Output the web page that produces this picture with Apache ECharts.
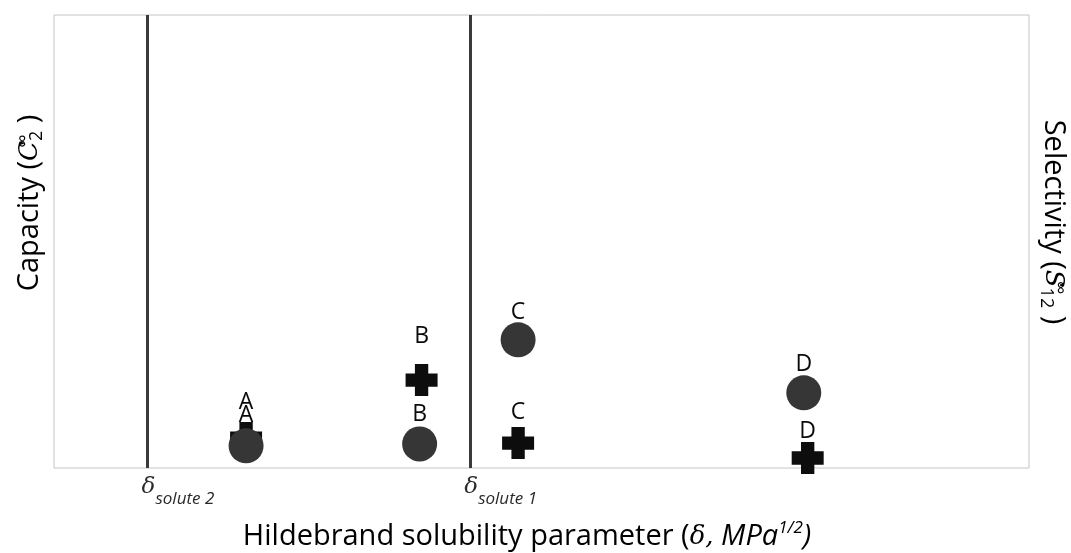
<!DOCTYPE html>
<html>
<head>
<meta charset="utf-8">
<script src="https://cdn.jsdelivr.net/npm/echarts@6/dist/echarts.min.js"></script>
<style>html,body{margin:0;padding:0;background:#fff}#c{width:1071px;height:553px}</style>
</head>
<body>
<div id="c"></div>
<script>
// ---- data ----
const pointNames   = ['A', 'B', 'C', 'D'];
const capacityX    = [1.97, 3.75, 4.76, 7.69];
const capacityY    = [0.49, 0.53, 2.83, 1.66];
const selectivityX = [1.97, 3.77, 4.76, 7.73];
const selectivityY = [0.66, 1.94, 0.55, 0.22];
const soluteDelta  = [0.96, 4.27];
const soluteLabels = ['solute 2', 'solute 1'];

// ---- styling ----
const FONT = 'Open Sans';
const circleLabelGap = [1, 1, -2, -1];
const crossLabelGap = [8, 16, 3, -1];
const crossPath = 'path://M3.5,0 H8.5 V3.5 H12 V8.5 H8.5 V12 H3.5 V8.5 H0 V3.5 H3.5 Z';

const chart = echarts.init(document.getElementById('c'));

const circleData = pointNames.map((n, i) => ({
  name: n, value: [capacityX[i], capacityY[i]], label: { distance: circleLabelGap[i] }
}));
const crossData = pointNames.map((n, i) => ({
  name: n, value: [selectivityX[i], selectivityY[i]], label: { distance: crossLabelGap[i] }
}));

const labelStyle = {
  show: true, position: 'top', formatter: p => p.name,
  fontFamily: FONT, fontSize: 23, color: '#0a0a0a'
};

const TC = '#2a2a2a';
const supRich = {
  t:   { fontFamily: FONT, fontSize: 29, color: TC, lineHeight: 48, verticalAlign: 'middle' },
  c:   { fontFamily: 'DejaVu Serif', fontStyle: 'italic', fontSize: 26, color: TC, lineHeight: 48, verticalAlign: 'middle' },
  sup: { fontFamily: FONT, fontSize: 19, color: TC, lineHeight: 48, verticalAlign: 'top', width: 0, padding: [8, 0, 0, 0] },
  sub: { fontFamily: FONT, fontSize: 18, color: TC, lineHeight: 48, verticalAlign: 'bottom', padding: [0, 0, 8, 0] }
};

const option = {
  backgroundColor: '#fff',
  animation: false,
  grid: { left: 54, right: 42, top: 15, bottom: 85, show: true, borderColor: '#c4c4c4', borderWidth: 1 },
  xAxis: {
    type: 'value', min: 0, max: 10,
    axisLine: { show: false }, axisTick: { show: false }, splitLine: { show: false },
    axisLabel: {
      customValues: soluteDelta,
      margin: 8,
      align: 'left',
      padding: [0, 0, 0, -6],
      formatter: v => '{d|δ}{s|' + soluteLabels[soluteDelta.indexOf(v)] + '}',
      rich: {
        d: { fontFamily: 'DejaVu Serif', fontStyle: 'italic', fontSize: 23, color: TC, lineHeight: 32, verticalAlign: 'top' },
        s: { fontFamily: FONT, fontStyle: 'italic', fontSize: 17, color: TC, lineHeight: 32, verticalAlign: 'bottom' }
      }
    }
  },
  yAxis: [
    { type: 'value', min: 0, max: 10, axisLine: { show: false }, axisTick: { show: false }, axisLabel: { show: false }, splitLine: { show: false } },
    { type: 'value', min: 0, max: 10, position: 'right', axisLine: { show: false }, axisTick: { show: false }, axisLabel: { show: false }, splitLine: { show: false } }
  ],
  graphic: [
    {
      type: 'text', x: 30, y: 203, rotation: Math.PI / 2,
      style: {
        text: '{t|Capacity (}{c|C}{sup|∞}{sub|2}{t| )}', rich: supRich,
        align: 'center', verticalAlign: 'middle'
      }
    },
    {
      type: 'text', x: 1053, y: 222, rotation: -Math.PI / 2,
      style: {
        text: '{t|Selectivity (}{c|S}{sup|∞}{sub|12}{t| )}', rich: supRich,
        align: 'center', verticalAlign: 'middle'
      }
    },
    {
      type: 'text', x: 527, y: 537,
      style: {
        text: '{t|Hildebrand solubility parameter (}{c|δ,}{i| MPa}{p|1/2}{i|)}',
        rich: {
          t: { fontFamily: FONT, fontSize: 29, color: TC, lineHeight: 40, verticalAlign: 'middle' },
          c: { fontFamily: 'DejaVu Serif', fontStyle: 'italic', fontSize: 26, color: TC, lineHeight: 40, verticalAlign: 'middle' },
          i: { fontFamily: FONT, fontStyle: 'italic', fontSize: 29, color: TC, lineHeight: 40, verticalAlign: 'middle' },
          p: { fontFamily: FONT, fontStyle: 'italic', fontSize: 17, color: TC, lineHeight: 40, verticalAlign: 'top', padding: [3, 0, 0, 0] }
        },
        align: 'center', verticalAlign: 'middle'
      }
    }
  ],
  series: [
    {
      name: 'Selectivity', type: 'scatter', yAxisIndex: 1,
      symbol: crossPath, symbolSize: 32,
      itemStyle: { color: '#0d0d0d', opacity: 1 },
      label: labelStyle,
      data: crossData, z: 2
    },
    {
      name: 'Capacity', type: 'scatter', yAxisIndex: 0,
      symbol: 'circle', symbolSize: 35,
      itemStyle: { color: '#363636', opacity: 1 },
      label: labelStyle,
      data: circleData, z: 3,
      markLine: {
        silent: true, symbol: ['none', 'none'],
        label: { show: false },
        lineStyle: { color: '#3a3a3a', width: 3, type: 'solid', opacity: 1 },
        data: soluteDelta.map(v => ({ xAxis: v }))
      }
    }
  ]
};
chart.setOption(option);
</script>
</body>
</html>
